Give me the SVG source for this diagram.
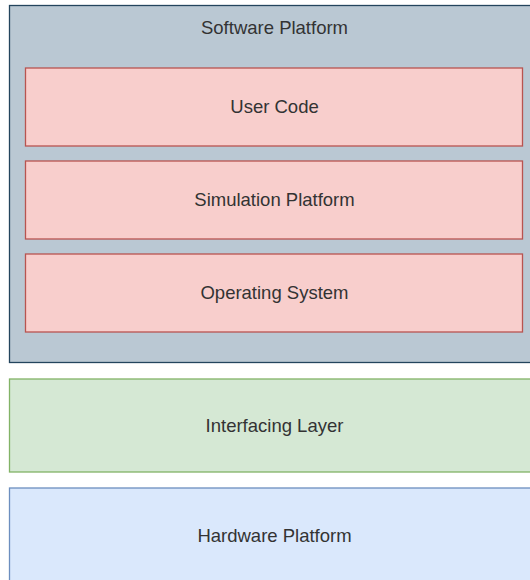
<svg xmlns="http://www.w3.org/2000/svg" width="530" height="580" viewBox="0 0 530 580">
  <style>
    .lbl { font-family: "Liberation Sans", Arial, sans-serif; font-size: 18.5px; fill: #333333; text-anchor: middle; dominant-baseline: central; }
    .platform { fill: #bac8d3; stroke: #23445d; stroke-width: 1.3; }
    .layer { fill: #f8cecc; stroke: #b85450; stroke-width: 1.3; }
    .iface { fill: #d5e8d4; stroke: #82b366; stroke-width: 1.3; }
    .hw { fill: #dae8fc; stroke: #6c8ebf; stroke-width: 1.3; }
  </style>

  <g id="software-platform">
    <rect class="platform" x="9.5" y="5.5" width="540" height="357"/>
    <text class="lbl" x="274.5" y="27">Software Platform</text>
  </g>

  <g id="user-code">
    <rect class="layer" x="25.5" y="68" width="497" height="78"/>
    <text class="lbl" x="274.5" y="106.5">User Code</text>
  </g>

  <g id="simulation-platform">
    <rect class="layer" x="25.5" y="161" width="497" height="78"/>
    <text class="lbl" x="274.5" y="199.5">Simulation Platform</text>
  </g>

  <g id="operating-system">
    <rect class="layer" x="25.5" y="254" width="497" height="78"/>
    <text class="lbl" x="274.5" y="292.5">Operating System</text>
  </g>

  <g id="interfacing-layer">
    <rect class="iface" x="9.5" y="379" width="540" height="93"/>
    <text class="lbl" x="274.5" y="425.5">Interfacing Layer</text>
  </g>

  <g id="hardware-platform">
    <rect class="hw" x="9.5" y="488" width="540" height="94"/>
    <text class="lbl" x="274.5" y="535">Hardware Platform</text>
  </g>

  <g id="connectors"></g>
</svg>
